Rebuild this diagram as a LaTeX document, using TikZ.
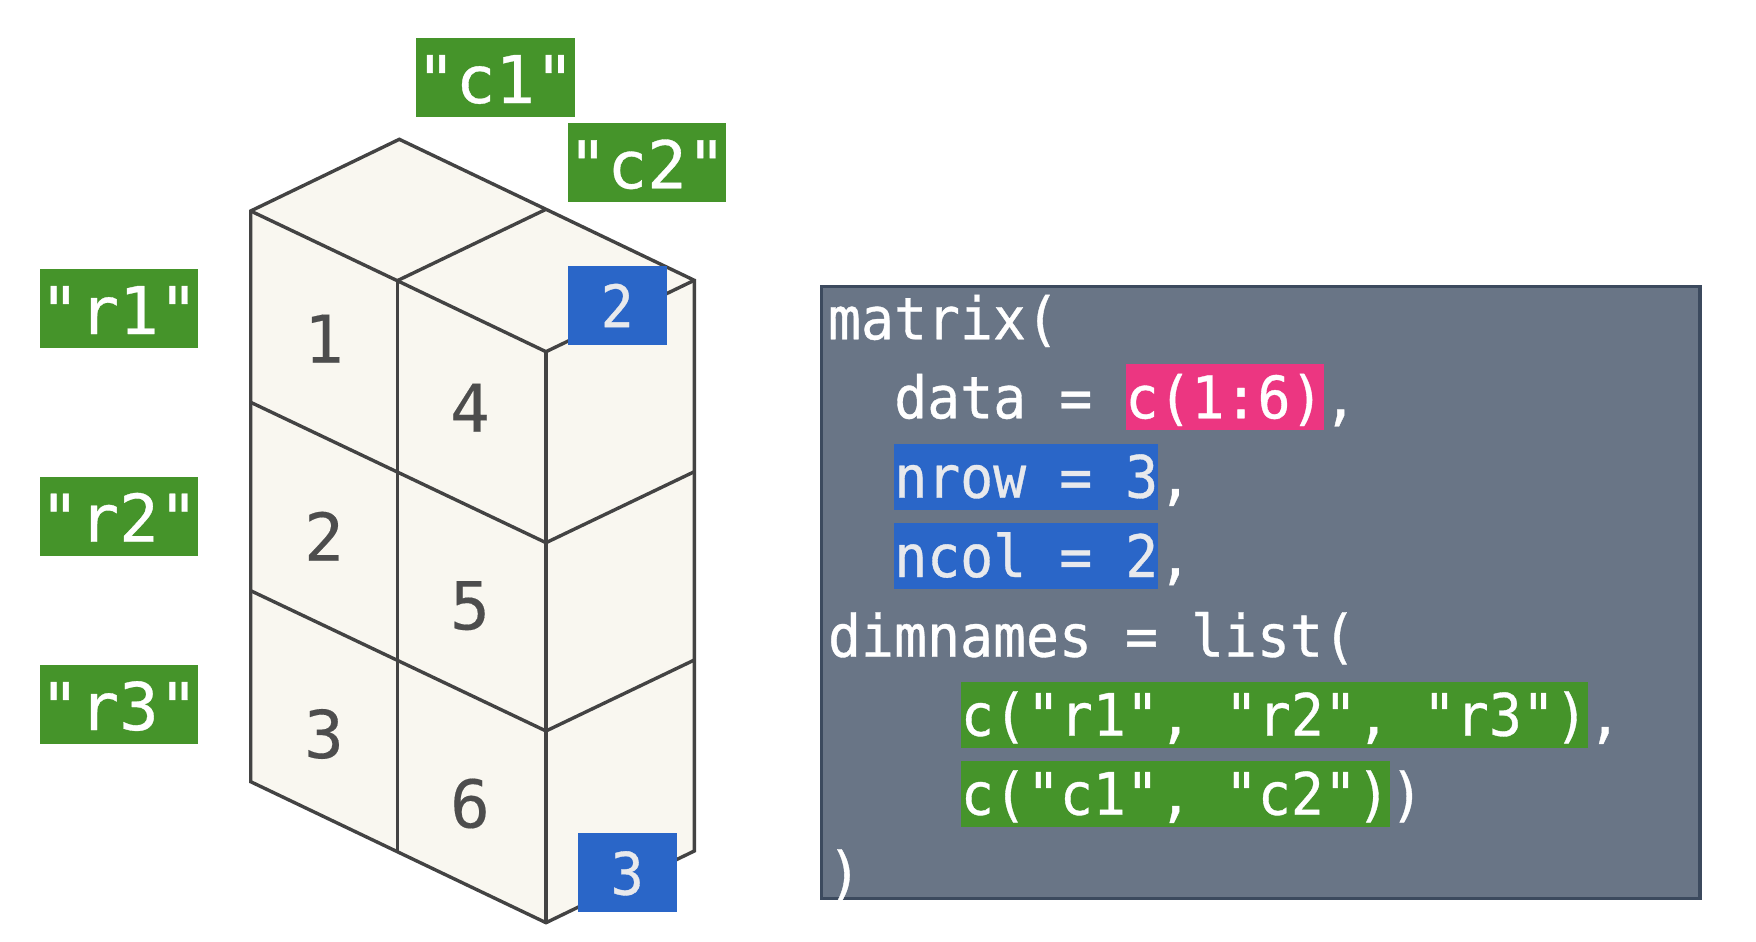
\documentclass[tikz,border=0pt]{standalone}
\usepackage{fontspec}
\newfontfamily\dvmono[FakeBold=0.5]{DejaVu Sans Mono}
\newfontfamily\cellmono[FakeBold=0.25]{DejaVu Sans Mono}
\newfontfamily\codemono[FakeStretch=0.937,FakeBold=0.6]{DejaVu Sans Mono}
\definecolor{lblgreen}{HTML}{45942A}
\definecolor{hlblue}{HTML}{2A66C8}
\definecolor{hlpink}{HTML}{EC3681}
\definecolor{codebg}{HTML}{697586}
\definecolor{codeedge}{HTML}{3C4A5E}
\definecolor{cubefill}{HTML}{F9F7F0}
\definecolor{cubeline}{HTML}{434343}
\definecolor{cubedigit}{HTML}{4D4D4D}
\definecolor{softwhite}{HTML}{E8E9EC}
\tikzset{
  x=1pt,y=-1pt,
  cubeedge/.style={draw=cubeline,line width=3.4pt,line join=miter},
  biglbl/.style={anchor=base west,inner sep=0pt,text height=65pt,text depth=14pt,fill=lblgreen,text=white,font=\dvmono\fontsize{65.8}{79}\selectfont},
  celldigit/.style={anchor=base,inner sep=0pt,text=cubedigit,font=\cellmono\fontsize{66}{79}\selectfont},
  dimbox/.style={anchor=base,inner sep=0pt,minimum width=99pt,text height=61.3pt,text depth=17.5pt,fill=hlblue,text=softwhite,font=\codemono\fontsize{58.5}{66}\selectfont},
  codetxt/.style={anchor=base west,inner sep=0pt,text height=54pt,text depth=12pt,text=white,font=\codemono\fontsize{58.5}{66}\selectfont},
  hlpinkbox/.style={codetxt,fill=hlpink},
  hlbluebox/.style={codetxt,fill=hlblue,text=softwhite},
  hlgreenbox/.style={codetxt,fill=lblgreen},
}
\begin{document}
\begin{tikzpicture}
\useasboundingbox (0,0) rectangle (1756,942);
% cube
\coordinate (apex) at (399.3,139.3);
\coordinate (tl) at (250.7,211);
\coordinate (tm) at (397.3,280.7);
\coordinate (tb) at (546,209.3);
\coordinate (tr) at (694.3,280.3);
\coordinate (tf) at (546,351.7);
\coordinate (l1) at (250.7,402.3); \coordinate (l2) at (250.7,590.7); \coordinate (l3) at (250.7,781.7);
\coordinate (m1) at (397.3,472); \coordinate (m2) at (397.3,660.3); \coordinate (m3) at (397.3,851.7);
\coordinate (f1) at (546,542.7); \coordinate (f2) at (546,731); \coordinate (f3) at (546,922.7);
\coordinate (r1c) at (694.3,471.7); \coordinate (r2c) at (694.3,660); \coordinate (r3c) at (694.3,851);
\fill[cubefill] (tl) -- (apex) -- (tb) -- (tr) -- (r3c) -- (f3) -- (m3) -- (l3) -- cycle;
\draw[cubeedge] (tl) -- (apex) -- (tb) -- (tr) -- (r3c) -- (f3) -- (m3) -- (l3) -- cycle;
\draw[cubeedge] (tb) -- (tm);
\draw[cubeedge] (tl) -- (tm) -- (tf) -- (tr);
\draw[cubeedge] (l1) -- (m1) -- (f1) -- (r1c);
\draw[cubeedge] (l2) -- (m2) -- (f2) -- (r2c);
\draw[cubeedge] (tm) -- (m3);
\draw[cubeedge] (tf) -- (f3);
% cell digits
\node[celldigit] (d1) at (324,362.7) {1};
\node[celldigit] (d2) at (324,560.7) {2};
\node[celldigit] (d3) at (324,758) {3};
\node[celldigit] (d4) at (470,431.7) {4};
\node[celldigit] (d5) at (470,629.3) {5};
\node[celldigit] (d6) at (470,827.5) {6};
% names
\node[biglbl] (c1) at (416,103) {"c1"};
\node[biglbl] (c2) at (567.7,188.3) {"c2"};
\node[biglbl] (r1) at (39.7,334) {"r1"};
\node[biglbl] (r2) at (39.7,541.7) {"r2"};
\node[biglbl] (r3) at (39.7,730) {"r3"};
% dims
\node[dimbox] (dimA) at (617.2,327.2) {2};
\node[dimbox] (dimB) at (627.2,894.6) {3};
% code
\draw[fill=codebg,draw=codeedge,line width=3.4pt] (821.5,286.5) rectangle (1700,898.5);
\node[codetxt] (L0) at (827.8,339.3) {matrix(};
\node[codetxt] (L1a) at (894,418.3) {data =};
\node[hlpinkbox] (L1b) at (1125.3,418.3) {c(1:6)};
\node[codetxt] (L1c) at (L1b.base east) {,};
\node[hlbluebox] (L2a) at (894,497.7) {nrow = 3};
\node[codetxt] (L2b) at (L2a.base east) {,};
\node[hlbluebox] (L3a) at (894,577) {ncol = 2};
\node[codetxt] (L3b) at (L3a.base east) {,};
\node[codetxt] (L4) at (827.8,656.7) {dimnames = list(};
\node[hlgreenbox] (L5a) at (960.7,735.7) {c("r1", "r2", "r3")};
\node[codetxt] (L5b) at (L5a.base east) {,};
\node[hlgreenbox] (L6a) at (960.7,814.7) {c("c1", "c2")};
\node[codetxt] (L6b) at (L6a.base east) {)};
\node[codetxt] (L7) at (827.8,893.7) {)};
\end{tikzpicture}
\end{document}
